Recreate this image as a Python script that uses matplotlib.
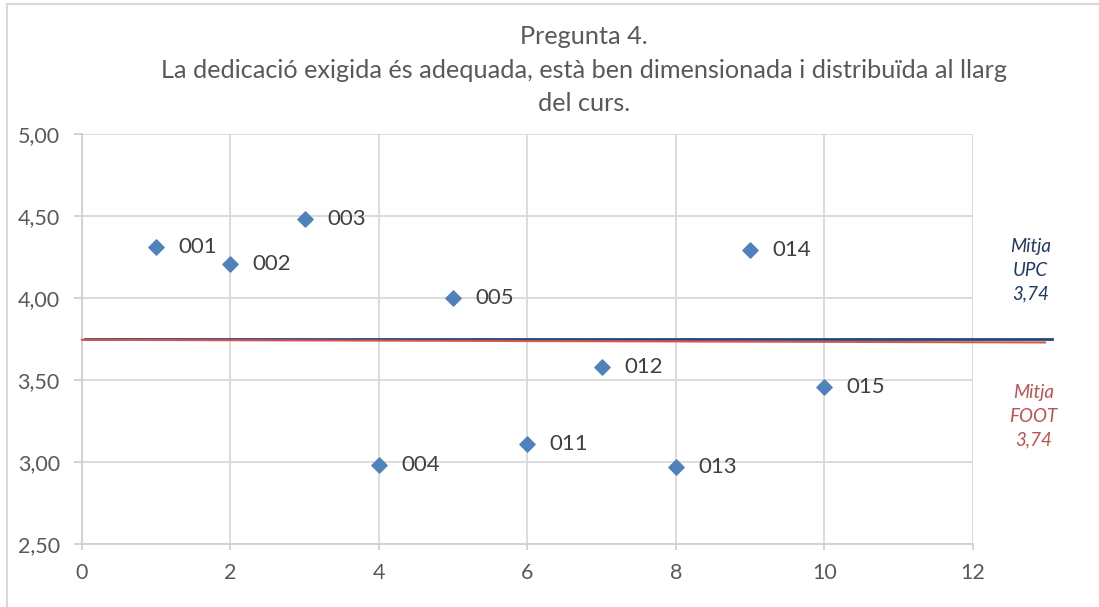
import matplotlib
matplotlib.use("Agg")
import matplotlib.pyplot as plt
from matplotlib.patches import Rectangle

plt.rcParams['font.family'] = ['Lato', 'DejaVu Sans']

# data
codes = ['001', '002', '003', '004', '005', '011', '012', '013', '014', '015']
xs = [1, 2, 3, 4, 5, 6, 7, 8, 9, 10]
scores = [4.31, 4.21, 4.48, 2.98, 4.00, 3.11, 3.58, 2.97, 4.29, 3.46]
mean_upc = 3.74
mean_foot = 3.74
upc_line_x = [0.04, 13.07]
upc_line_y = [3.753, 3.753]
foot_line_x = [0.0, 12.97]
foot_line_y = [3.745, 3.729]
xticks = [0, 2, 4, 6, 8, 10, 12]
yticks = [2.5, 3.0, 3.5, 4.0, 4.5, 5.0]

fig = plt.figure(figsize=(10.99, 6.07), dpi=100)
fig.patches.append(Rectangle((7 / 1099, -0.01), 1.0, 1 - 4 / 607 + 0.01,
                             transform=fig.transFigure, fill=False,
                             edgecolor='#d9d9d9', linewidth=1.5))
ax = fig.add_axes([82 / 1099, 1 - 544 / 607, (973 - 82) / 1099, (544 - 134) / 607])

ax.set_xlim(0, 12)
ax.set_ylim(2.5, 5.0)
ax.set_xticks(xticks)
ax.set_yticks(yticks)
ax.set_yticklabels(['{:.2f}'.format(v).replace('.', ',') for v in yticks])
ax.grid(True, color='#d9d9d9', linewidth=1.3)
ax.set_axisbelow(True)
for s in ['top', 'right']:
    ax.spines[s].set_visible(False)
for s in ['left', 'bottom']:
    ax.spines[s].set_color('#d0d0d0')
    ax.spines[s].set_linewidth(1.3)
ax.tick_params(axis='both', colors='#d0d0d0', labelcolor='#595959',
               labelsize=15.5, width=1.3)
ax.tick_params(axis='y', length=6, pad=10)
ax.tick_params(axis='x', length=4, pad=10)

ax.plot(upc_line_x, upc_line_y, color='#1f497d', linewidth=2, clip_on=False, zorder=3)
ax.plot(foot_line_x, foot_line_y, color='#d9534f', linewidth=1.5, clip_on=False, zorder=3)

ax.scatter(xs, scores, marker='D', s=60, color='#4f81bd', zorder=4)
for x, y, c in zip(xs, scores, codes):
    ax.annotate(c, (x, y), xytext=(16, 0), textcoords='offset points',
                va='center', ha='left', fontsize=16, color='#404040')

ax.text(12.77, 4.17, 'Mitja\nUPC\n{:.2f}'.format(mean_upc).replace('.', ','),
        ha='center', va='center', fontsize=13.5, style='italic',
        color='#1f3864', linespacing=1.45, clip_on=False)
ax.text(12.81, 3.28, 'Mitja\nFOOT\n{:.2f}'.format(mean_foot).replace('.', ','),
        ha='center', va='center', fontsize=13.5, style='italic',
        color='#c0504d', linespacing=1.45, clip_on=False)

fig.text(584 / 1099, 1 - 70 / 607,
         'Pregunta 4.\nLa dedicació exigida és adequada, està ben dimensionada i distribuïda al llarg\ndel curs.',
         ha='center', va='center', fontsize=18.2, color='#595959', linespacing=1.55)

fig.savefig('out.png', dpi=100)
